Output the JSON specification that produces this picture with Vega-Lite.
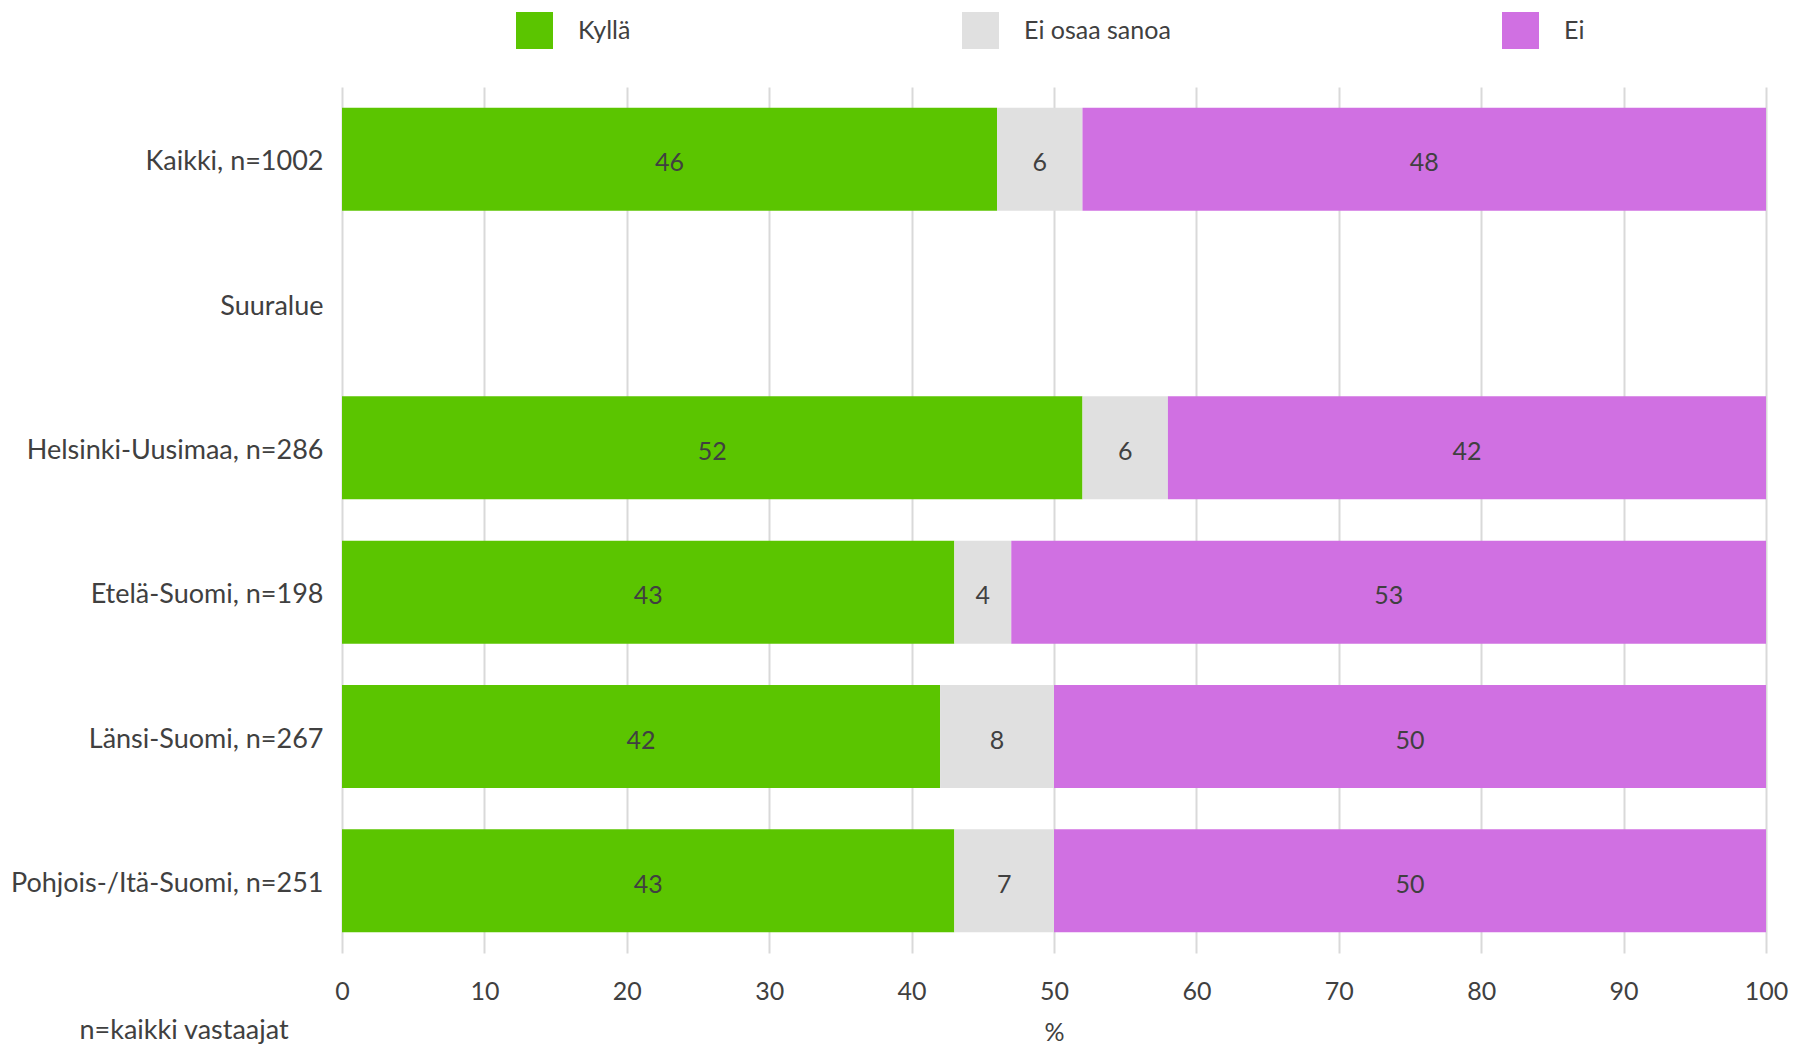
{
  "$schema": "https://vega.github.io/schema/vega-lite/v6.json",
  "width": 1424,
  "height": 866,
  "autosize": {"type": "none"},
  "padding": {"left": 342, "top": 87, "right": 41, "bottom": 92},
  "background": "white",
  "config": {
    "font": "Lato",
    "view": {"stroke": null},
    "axis": {"labelColor": "#404040", "titleColor": "#404040", "labelFont": "Lato", "titleFont": "Lato"},
    "legend": {"labelFont": "Lato"}
  },
  "data": {
    "values": [
      {"group": "Kaikki, n=1002", "answer": "Kyllä", "pct": 46},
      {"group": "Kaikki, n=1002", "answer": "Ei osaa sanoa", "pct": 6},
      {"group": "Kaikki, n=1002", "answer": "Ei", "pct": 48},
      {"group": "Helsinki-Uusimaa, n=286", "answer": "Kyllä", "pct": 52},
      {"group": "Helsinki-Uusimaa, n=286", "answer": "Ei osaa sanoa", "pct": 6},
      {"group": "Helsinki-Uusimaa, n=286", "answer": "Ei", "pct": 42},
      {"group": "Etelä-Suomi, n=198", "answer": "Kyllä", "pct": 43},
      {"group": "Etelä-Suomi, n=198", "answer": "Ei osaa sanoa", "pct": 4},
      {"group": "Etelä-Suomi, n=198", "answer": "Ei", "pct": 53},
      {"group": "Länsi-Suomi, n=267", "answer": "Kyllä", "pct": 42},
      {"group": "Länsi-Suomi, n=267", "answer": "Ei osaa sanoa", "pct": 8},
      {"group": "Länsi-Suomi, n=267", "answer": "Ei", "pct": 50},
      {"group": "Pohjois-/Itä-Suomi, n=251", "answer": "Kyllä", "pct": 43},
      {"group": "Pohjois-/Itä-Suomi, n=251", "answer": "Ei osaa sanoa", "pct": 7},
      {"group": "Pohjois-/Itä-Suomi, n=251", "answer": "Ei", "pct": 50}
    ]
  },
  "transform": [
    {"stack": "pct", "groupby": ["group"], "sort": [{"field": "answer", "order": "descending"}], "as": ["x0", "x1"]},
    {"calculate": "(datum.x0 + datum.x1) / 2", "as": "mid"}
  ],
  "encoding": {
    "y": {
      "field": "group",
      "type": "nominal",
      "scale": {
        "domain": ["Kaikki, n=1002", "Suuralue", "Helsinki-Uusimaa, n=286", "Etelä-Suomi, n=198", "Länsi-Suomi, n=267", "Pohjois-/Itä-Suomi, n=251"],
        "paddingInner": 0.286,
        "paddingOuter": 0.143
      },
      "axis": {
        "title": "n=kaikki vastaajat",
        "titleAngle": 0,
        "titleAlign": "left",
        "titleBaseline": "middle",
        "titleX": -263,
        "titleY": 943,
        "titleFontSize": 27,
        "titleFontWeight": "normal",
        "labelFontSize": 27,
        "labelLimit": 0,
        "labelPadding": 19,
        "labelOffset": 3,
        "ticks": false,
        "domain": false,
        "grid": false
      }
    }
  },
  "layer": [
    {
      "mark": {"type": "bar"},
      "encoding": {
        "x": {
          "field": "x0",
          "type": "quantitative",
          "scale": {"domain": [0, 100], "nice": false},
          "axis": {
            "title": "%",
            "titleFontSize": 25,
            "titleFontWeight": "normal",
            "titlePadding": 16,
            "values": [0, 10, 20, 30, 40, 50, 60, 70, 80, 90, 100],
            "labelFontSize": 25,
            "labelFlush": false,
            "labelPadding": 26,
            "ticks": false,
            "domain": false,
            "grid": true,
            "gridColor": "#D9D9D9",
            "gridWidth": 2
          }
        },
        "x2": {"field": "x1"},
        "color": {
          "field": "answer",
          "type": "nominal",
          "scale": {"domain": ["Kyllä", "Ei osaa sanoa", "Ei"], "range": ["#5BC500", "#E0E0E0", "#D070E2"]},
          "legend": {
            "title": null,
            "orient": "none",
            "direction": "horizontal",
            "legendX": 174,
            "legendY": -75,
            "symbolType": "square",
            "symbolSize": 1369,
            "symbolStrokeWidth": 0,
            "symbolOpacity": 1,
            "labelFontSize": 25,
            "labelColor": "#404040",
            "labelOffset": 25,
            "columnPadding": 331
          }
        }
      }
    },
    {
      "mark": {"type": "text", "fontSize": 25, "color": "#404040", "baseline": "middle", "align": "center", "dy": 4},
      "encoding": {
        "x": {"field": "mid", "type": "quantitative"},
        "text": {"field": "pct", "type": "quantitative"}
      }
    }
  ]
}
